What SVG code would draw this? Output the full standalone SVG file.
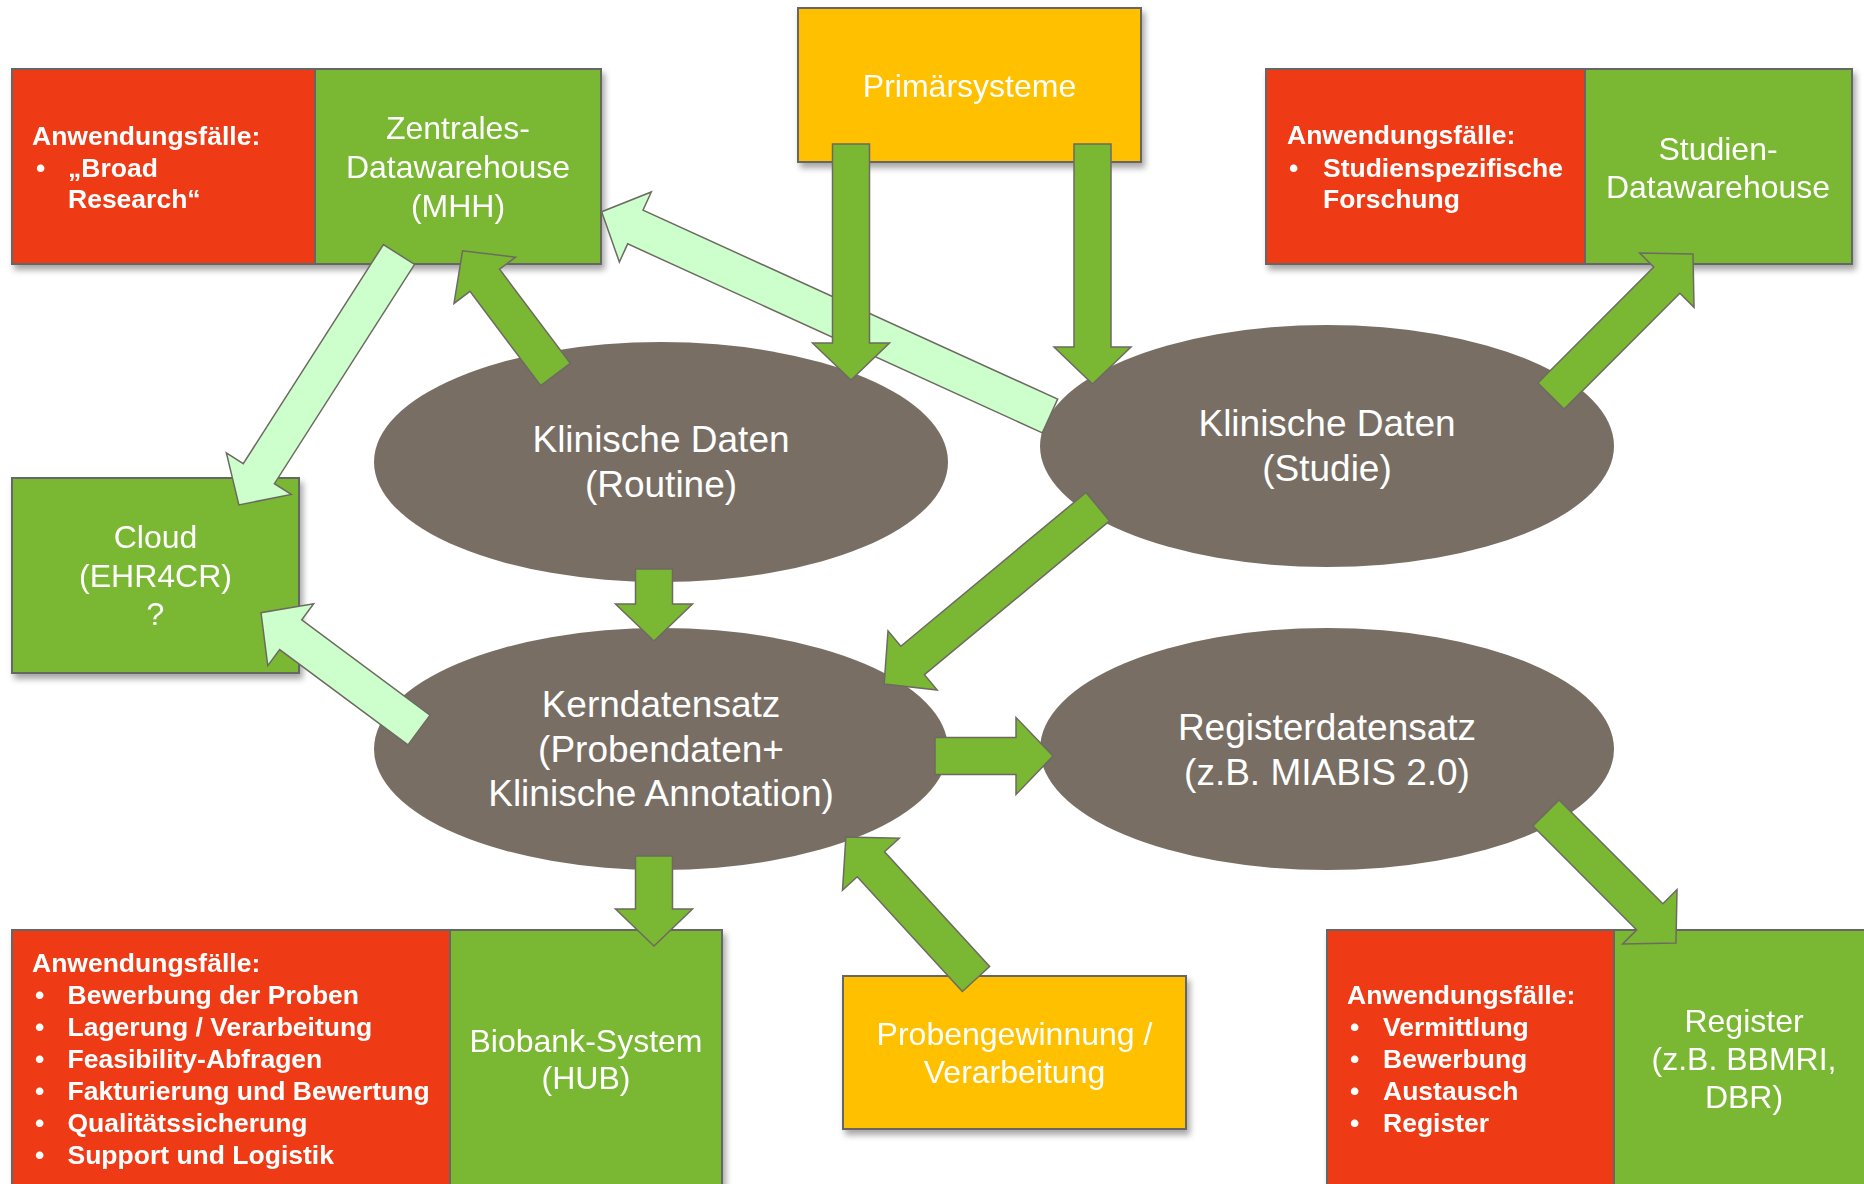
<svg xmlns="http://www.w3.org/2000/svg" width="1864" height="1184" viewBox="0 0 1864 1184">
<defs>
<filter id="sh" x="-10%" y="-10%" width="125%" height="130%">
<feDropShadow dx="3" dy="5" stdDeviation="3" flood-color="#000" flood-opacity="0.35"/>
</filter>
<style>
.red{fill:#EE3B17;stroke:#666;stroke-width:2}
.grn{fill:#7AB733;stroke:#666;stroke-width:2}
.yel{fill:#FFC000;stroke:#666;stroke-width:2}
.ell{fill:#786E64}
.lbl{font-family:"Liberation Sans",Arial,sans-serif;font-size:32px;fill:#fff;text-anchor:middle}
.elbl{font-family:"Liberation Sans",Arial,sans-serif;font-size:37px;fill:#fff;text-anchor:middle}
.uc{font-family:"Liberation Sans",Arial,sans-serif;font-weight:bold;font-size:26.5px;fill:#fff}
.ag{fill:#7AB733;stroke:#6E6A62;stroke-width:1.5}
.al{fill:#CCFFCC;stroke:#6E6A62;stroke-width:1.5}
</style>
</defs>
<rect width="1864" height="1184" fill="#fff"/>

<g id="zentrales-dwh" filter="url(#sh)">
<rect class="red" x="12" y="69" width="303" height="195"/>
<rect class="grn" x="315" y="69" width="286" height="195"/>
<text class="uc"><tspan x="32" y="145">Anwendungsfälle:</tspan><tspan x="36" y="177">•</tspan><tspan x="68" y="177">„Broad</tspan><tspan x="68" y="208">Research“</tspan></text>
<text class="lbl"><tspan x="458" y="139">Zentrales-</tspan><tspan x="458" y="178">Datawarehouse</tspan><tspan x="458" y="217">(MHH)</tspan></text>
</g>

<g id="primaersysteme" filter="url(#sh)">
<rect class="yel" x="798" y="8" width="343" height="154"/>
<text class="lbl" x="969.5" y="97">Primärsysteme</text>
</g>

<g id="studien-dwh" filter="url(#sh)">
<rect class="red" x="1266" y="69" width="319" height="195"/>
<rect class="grn" x="1585" y="69" width="267" height="195"/>
<text class="uc"><tspan x="1287" y="144">Anwendungsfälle:</tspan><tspan x="1289" y="177">•</tspan><tspan x="1323" y="177">Studienspezifische</tspan><tspan x="1323" y="208">Forschung</tspan></text>
<text class="lbl"><tspan x="1718" y="160">Studien-</tspan><tspan x="1718" y="198">Datawarehouse</tspan></text>
</g>

<g id="cloud" filter="url(#sh)">
<rect class="grn" x="12" y="478" width="287" height="195"/>
<text class="lbl"><tspan x="155.5" y="548">Cloud</tspan><tspan x="155.5" y="587">(EHR4CR)</tspan><tspan x="155.5" y="625">?</tspan></text>
</g>

<g id="klinische-daten-routine">
<ellipse class="ell" cx="661" cy="462" rx="287" ry="120"/>
<text class="elbl"><tspan x="661" y="452">Klinische Daten</tspan><tspan x="661" y="497">(Routine)</tspan></text>
</g>

<g id="klinische-daten-studie">
<ellipse class="ell" cx="1327" cy="446" rx="287" ry="121"/>
<text class="elbl"><tspan x="1327" y="436">Klinische Daten</tspan><tspan x="1327" y="481">(Studie)</tspan></text>
</g>

<g id="kerndatensatz">
<ellipse class="ell" cx="661" cy="749" rx="287" ry="121"/>
<text class="elbl"><tspan x="661" y="717">Kerndatensatz</tspan><tspan x="661" y="762">(Probendaten+</tspan><tspan x="661" y="806">Klinische Annotation)</tspan></text>
</g>

<g id="registerdatensatz">
<ellipse class="ell" cx="1327" cy="749" rx="287" ry="121"/>
<text class="elbl"><tspan x="1327" y="740">Registerdatensatz</tspan><tspan x="1327" y="785">(z.B. MIABIS 2.0)</tspan></text>
</g>

<g id="biobank-system" filter="url(#sh)">
<rect class="red" x="12" y="930" width="438" height="280"/>
<rect class="grn" x="450" y="930" width="272" height="280"/>
<text class="uc"><tspan x="32" y="972">Anwendungsfälle:</tspan><tspan x="35" y="1004">•</tspan><tspan x="67.5" y="1004">Bewerbung der Proben</tspan><tspan x="35" y="1036">•</tspan><tspan x="67.5" y="1036">Lagerung / Verarbeitung</tspan><tspan x="35" y="1068">•</tspan><tspan x="67.5" y="1068">Feasibility-Abfragen</tspan><tspan x="35" y="1100">•</tspan><tspan x="67.5" y="1100">Fakturierung und Bewertung</tspan><tspan x="35" y="1132">•</tspan><tspan x="67.5" y="1132">Qualitätssicherung</tspan><tspan x="35" y="1164">•</tspan><tspan x="67.5" y="1164">Support und Logistik</tspan></text>
<text class="lbl"><tspan x="586" y="1052">Biobank-System</tspan><tspan x="586" y="1089">(HUB)</tspan></text>
</g>

<g id="probengewinnung" filter="url(#sh)">
<rect class="yel" x="843" y="976" width="343" height="153"/>
<text class="lbl"><tspan x="1014.5" y="1045">Probengewinnung /</tspan><tspan x="1014.5" y="1083">Verarbeitung</tspan></text>
</g>

<g id="register" filter="url(#sh)">
<rect class="red" x="1327" y="930" width="287" height="280"/>
<rect class="grn" x="1614" y="930" width="270" height="280"/>
<text class="uc"><tspan x="1347" y="1004">Anwendungsfälle:</tspan><tspan x="1350" y="1036">•</tspan><tspan x="1383" y="1036">Vermittlung</tspan><tspan x="1350" y="1068">•</tspan><tspan x="1383" y="1068">Bewerbung</tspan><tspan x="1350" y="1100">•</tspan><tspan x="1383" y="1100">Austausch</tspan><tspan x="1350" y="1132">•</tspan><tspan x="1383" y="1132">Register</tspan></text>
<text class="lbl"><tspan x="1744" y="1032">Register</tspan><tspan x="1744" y="1070">(z.B. BBMRI,</tspan><tspan x="1744" y="1108">DBR)</tspan></text>
</g>

<g id="connectors">
<polygon class="al" transform="translate(1050,416) rotate(-155.5)" points="0,-18.5 455.7,-18.5 455.7,-38.5 492.7,0 455.7,38.5 455.7,18.5 0,18.5"/>
<polygon class="al" transform="translate(399,254.5) rotate(122.6)" points="0,-18.5 260.2,-18.5 260.2,-38.5 297.2,0 260.2,38.5 260.2,18.5 0,18.5"/>
<polygon class="al" transform="translate(419,730) rotate(-143.4)" points="0,-18.5 159.8,-18.5 159.8,-38.5 196.8,0 159.8,38.5 159.8,18.5 0,18.5"/>
<polygon class="ag" transform="translate(851,144) rotate(90)" points="0,-18.5 199,-18.5 199,-38.5 236,0 199,38.5 199,18.5 0,18.5"/>
<polygon class="ag" transform="translate(1092.5,144) rotate(90)" points="0,-18.5 203,-18.5 203,-38.5 240,0 203,38.5 203,18.5 0,18.5"/>
<polygon class="ag" transform="translate(555.5,374.5) rotate(-126.9)" points="0,-18.5 117.8,-18.5 117.8,-38.5 154.8,0 117.8,38.5 117.8,18.5 0,18.5"/>
<polygon class="ag" transform="translate(654,569) rotate(90)" points="0,-18.5 35,-18.5 35,-38.5 72,0 35,38.5 35,18.5 0,18.5"/>
<polygon class="ag" transform="translate(1097.8,506.7) rotate(140.3)" points="0,-18.5 240.7,-18.5 240.7,-38.5 277.7,0 240.7,38.5 240.7,18.5 0,18.5"/>
<polygon class="ag" transform="translate(935,756)" points="0,-18.5 81,-18.5 81,-38.5 118,0 81,38.5 81,18.5 0,18.5"/>
<polygon class="ag" transform="translate(1551,396) rotate(-45)" points="0,-18.5 163.8,-18.5 163.8,-38.5 200.8,0 163.8,38.5 163.8,18.5 0,18.5"/>
<polygon class="ag" transform="translate(1546,813) rotate(45)" points="0,-18.5 146.8,-18.5 146.8,-38.5 183.8,0 146.8,38.5 146.8,18.5 0,18.5"/>
<polygon class="ag" transform="translate(654,856) rotate(90)" points="0,-18.5 53,-18.5 53,-38.5 90,0 53,38.5 53,18.5 0,18.5"/>
<polygon class="ag" transform="translate(976,979) rotate(-132.5)" points="0,-18.5 155.6,-18.5 155.6,-38.5 192.6,0 155.6,38.5 155.6,18.5 0,18.5"/>
</g>
</svg>
